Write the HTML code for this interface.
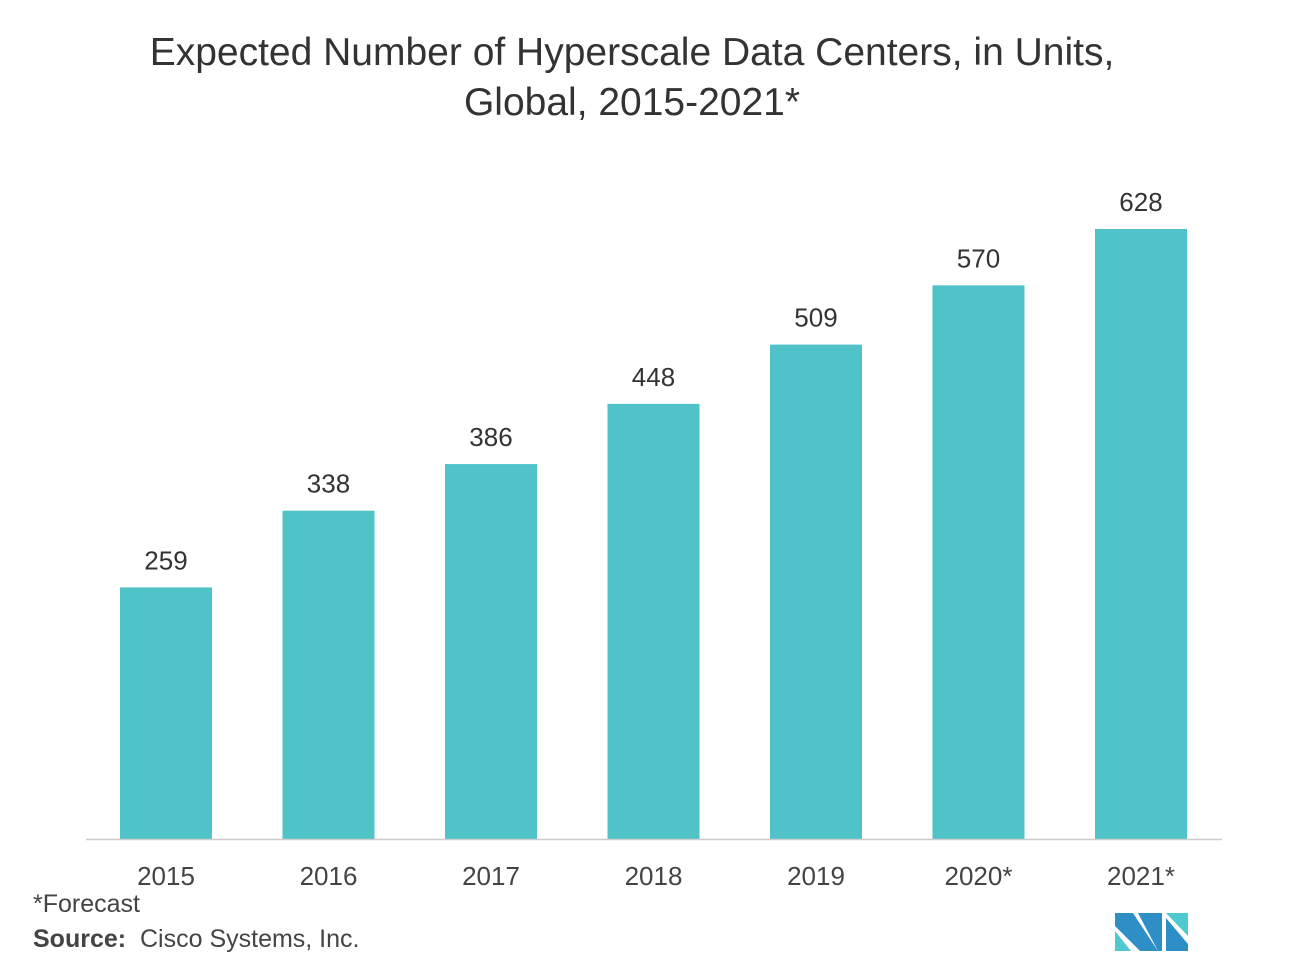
<!DOCTYPE html>
<html><head><meta charset="utf-8"><style>
body{margin:0;background:#fff;font-family:"Liberation Sans",sans-serif;}
#wrap{position:relative;width:1294px;height:976px;overflow:hidden;}
.t{position:absolute;color:#333;}
</style></head><body>
<div id="wrap">
<div class="t" style="left:0;width:1264px;top:28px;text-align:center;font-size:39px;line-height:50px;color:#333">Expected Number of Hyperscale Data Centers, in Units,<br>Global, 2015-2021*</div>
<svg id="svg" width="1294" height="976" style="position:absolute;left:0;top:0"></svg>
<div class="t" style="left:33px;top:890px;font-size:25px;color:#444">*Forecast</div>
<div class="t" style="left:33px;top:925px;font-size:25px;color:#444"><b>Source:</b>&nbsp; Cisco Systems, Inc.</div>
</div>
<script>
const categories=["2015","2016","2017","2018","2019","2020*","2021*"];
const values=[259,338,386,448,509,570,628];
const svg=document.getElementById('svg');
const NS='http://www.w3.org/2000/svg';
const base=839, scale=610/628, x0=166, step=162.5, bw=92;
const xC=i=>x0+i*step;
const yV=v=>base-v*scale;
function mk(t,a){const e=document.createElementNS(NS,t);for(const k in a)e.setAttribute(k,a[k]);svg.appendChild(e);return e;}
values.forEach((v,i)=>{
 const r=mk('rect',{x:xC(i)-bw/2,y:yV(v),width:bw,height:base-yV(v),fill:'#50c3c9'});
 
 
 const l=mk('text',{x:xC(i),y:yV(v)-18,'text-anchor':'middle','font-size':26,fill:'#333','font-family':'Liberation Sans, sans-serif'});
 l.textContent=v;
 
 
 const c=mk('text',{x:xC(i),y:885,'text-anchor':'middle','font-size':26,fill:'#444','font-family':'Liberation Sans, sans-serif'});
 c.textContent=categories[i];
 
 
});
const ax=mk('line',{x1:86,x2:1222,y1:base+0.5,y2:base+0.5,stroke:'#ccc','stroke-width':1.5});


const g=mk('g',{});


[['1115,913 1133,913 1158,951 1140,951 1115,926','#2e8fc6'],['1115,931 1131,951 1115,951','#4fc9d0'],['1139,913 1158,913 1158,942','#4fc9d0'],['1138,913 1162,913 1162,951 1158,951','#2e8fc6'],['1166,913 1188,913 1188,936','#4fc9d0'],['1166,918 1188,944 1188,951 1166,951','#2e8fc6']].forEach(p=>{const e=document.createElementNS(NS,'polygon');e.setAttribute('points',p[0]);e.setAttribute('fill',p[1]);g.appendChild(e);});
</script>
</body></html>
